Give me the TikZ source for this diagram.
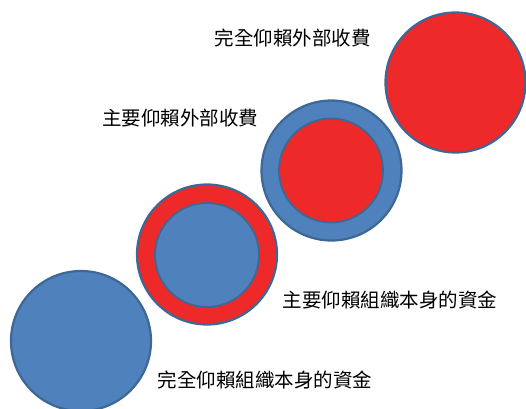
\documentclass[tikz,border=0pt]{standalone}
\usepackage{fontspec}
\newfontfamily\cjk{Noto Sans CJK TC}
\definecolor{fillblue}{HTML}{4F81BD}
\definecolor{edgeblue}{HTML}{3D6895}
\definecolor{fillred}{HTML}{EE2929}
\begin{document}
\begin{tikzpicture}[x=1pt,y=-1pt,
  disc/.style={circle,inner sep=0pt,draw=edgeblue,line width=2.2pt},
  bigdisc/.style={disc,minimum size=140pt},
  smalldisc/.style={disc,minimum size=104pt,line width=1.8pt},
  lbl/.style={inner sep=0pt,font=\cjk\fontsize{19.5}{21}\selectfont}]
\useasboundingbox (0,0) rectangle (526,408);
% circle 1: fully own funds
\node[bigdisc,fill=fillblue] (c1) at (81,341) {};
% circle 2: mainly own funds
\node[bigdisc,fill=fillred] (c2) at (207,254.5) {};
\node[smalldisc,fill=fillblue] (c2in) at (207,255) {};
% circle 3: mainly external
\node[bigdisc,fill=fillblue] (c3) at (331.5,170.5) {};
\node[smalldisc,fill=fillred] (c3in) at (331,170.5) {};
% circle 4: fully external
\node[bigdisc,fill=fillred] (c4) at (455.5,82.5) {};
% labels
\node[lbl] (t4) at (292.5,38) {完全仰賴外部收費};
\node[lbl] (t3) at (180,118) {主要仰賴外部收費};
\node[lbl] (t2) at (390,300) {主要仰賴組織本身的資金};
\node[lbl] (t1) at (265,380) {完全仰賴組織本身的資金};
\end{tikzpicture}
\end{document}
